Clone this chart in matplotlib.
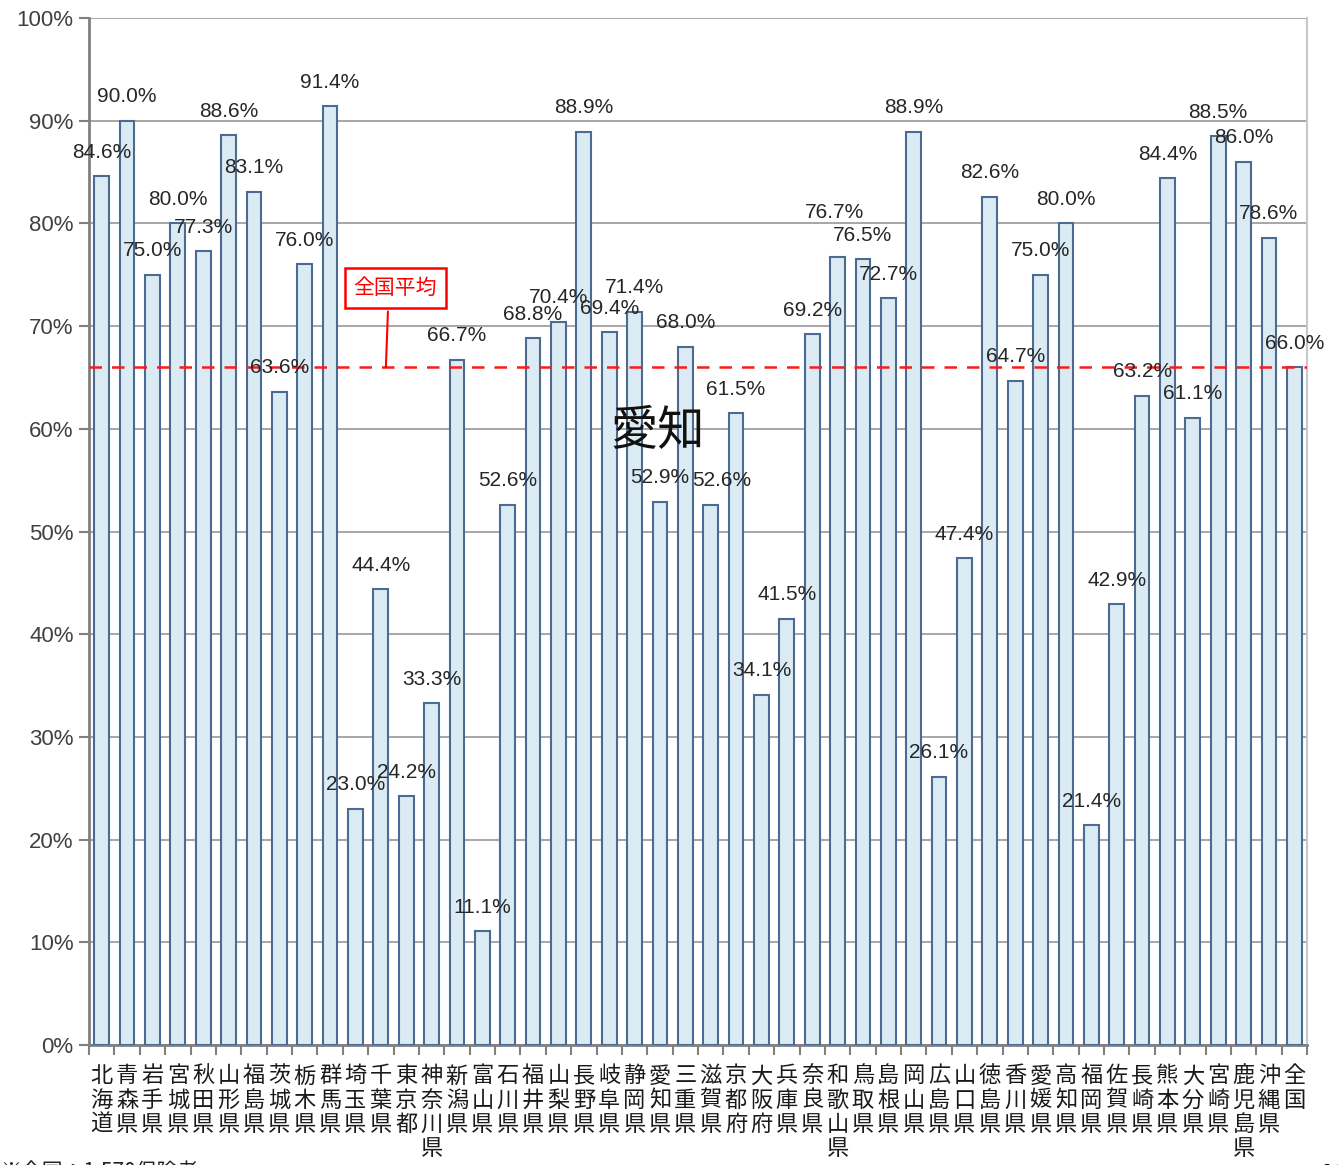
import matplotlib
matplotlib.use("Agg")
import matplotlib.pyplot as plt
from matplotlib.ticker import FixedLocator, FuncFormatter

plt.rcParams['font.family'] = ['Liberation Sans', 'Noto Sans CJK JP', 'DejaVu Sans']

prefectures = ["北海道", "青森県", "岩手県", "宮城県", "秋田県", "山形県", "福島県", "茨城県",
               "栃木県", "群馬県", "埼玉県", "千葉県", "東京都", "神奈川県", "新潟県", "富山県",
               "石川県", "福井県", "山梨県", "長野県", "岐阜県", "静岡県", "愛知県", "三重県",
               "滋賀県", "京都府", "大阪府", "兵庫県", "奈良県", "和歌山県", "鳥取県", "島根県",
               "岡山県", "広島県", "山口県", "徳島県", "香川県", "愛媛県", "高知県", "福岡県",
               "佐賀県", "長崎県", "熊本県", "大分県", "宮崎県", "鹿児島県", "沖縄県", "全国"]
rates = [84.6, 90.0, 75.0, 80.0, 77.3, 88.6, 83.1, 63.6,
         76.0, 91.4, 23.0, 44.4, 24.2, 33.3, 66.7, 11.1,
         52.6, 68.8, 70.4, 88.9, 69.4, 71.4, 52.9, 68.0,
         52.6, 61.5, 34.1, 41.5, 69.2, 76.7, 76.5, 72.7,
         88.9, 26.1, 47.4, 82.6, 64.7, 75.0, 80.0, 21.4,
         42.9, 63.2, 84.4, 61.1, 88.5, 86.0, 78.6, 66.0]
national_avg = 66.0
yticks = [0, 10, 20, 30, 40, 50, 60, 70, 80, 90, 100]

fig = plt.figure(figsize=(13.38, 11.65), dpi=100)
ax = fig.add_axes([89/1338, 1 - 1045/1165, (1307 - 89)/1338, (1045 - 18)/1165])

x = list(range(len(rates)))
ax.bar(x, rates, width=0.58, color='#daebf3', edgecolor='#4d6a92', linewidth=1.5, zorder=3)

# label placement tweaks (pixels) for a few labels moved in the original
label_shift = {24: (11, 0), 29: (-3, 21)}
for xi, v in zip(x, rates):
    dx, dy = label_shift.get(xi, (0, 0))
    ax.annotate(f"{v:.1f}%", (xi, v), xytext=(dx, 24 + dy), textcoords='offset pixels',
                ha='center', va='center', fontsize=15, color='#262626', zorder=5)

ax.set_xlim(-0.5, len(rates) - 0.5)
ax.set_ylim(0, 100)
ax.yaxis.set_major_locator(FixedLocator(yticks))
ax.yaxis.set_major_formatter(FuncFormatter(lambda v, p: f"{int(v)}%"))
ax.tick_params(axis='y', direction='out', length=7, width=1.5, color='#808080',
               labelsize=16, labelcolor='#404040', pad=4)
ax.grid(axis='y', color='#a6a6a6', linewidth=1.4, zorder=0)

ax.set_xticks(x)
ax.set_xticklabels(["\n".join(p) for p in prefectures], fontsize=16,
                   family=['Noto Sans CJK JP'], linespacing=1.06, va='top')
ax.set_xticks([i - 0.5 for i in range(len(rates) + 1)], minor=True)
ax.tick_params(axis='x', which='major', length=0, pad=14, labelcolor='#1a1a1a')
ax.tick_params(axis='x', which='minor', direction='out', length=7, width=1.5, color='#808080')

for s in ['left', 'bottom']:
    ax.spines[s].set_color('#808080')
    ax.spines[s].set_linewidth(2)
ax.spines['right'].set_color('#c8c8c8')
ax.spines['right'].set_linewidth(1.5)
ax.spines['top'].set_visible(False)

ax.axhline(national_avg, color='#ff1a1a', linestyle=(0, (5, 4)), linewidth=1.8, zorder=4)

ax.plot([11.20, 11.28], [national_avg, 71.4], color='#ff0000', lw=1.5, zorder=6)
ax.text(11.56, 73.7, "全国平均", ha='center', va='center', fontsize=15, color='#ff0000',
        family=['Noto Sans CJK JP'],
        bbox=dict(boxstyle='square,pad=0.42', fc='white', ec='#ff0000', lw=1.8),
        zorder=6)

ax.text(21.92, 59.7, "愛知", ha='center', va='center', fontsize=34, color='#111111',
        family=['Noto Sans CJK JP'], zorder=6)

fig.text(0.0, 1 - 1172/1165, "※全国：1,570保険者", ha='left', va='center', fontsize=15,
         color='#222222', family=['Noto Sans CJK JP'])
fig.text(1318/1338, 1 - 1176/1165, "13", ha='left', va='center', fontsize=20,
         fontweight='bold', color='#111111')

fig.savefig("out.png", dpi=100, facecolor='white')
